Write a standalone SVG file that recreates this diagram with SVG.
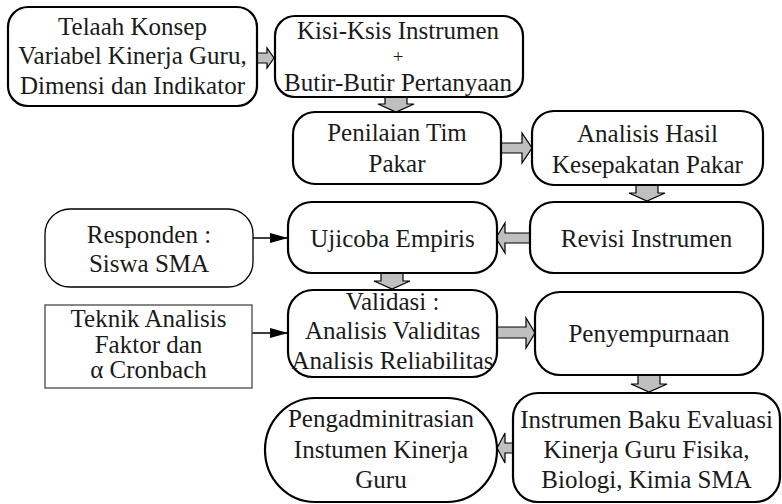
<svg xmlns="http://www.w3.org/2000/svg" width="782" height="504" viewBox="0 0 782 504">
<defs>
<marker id="tri" viewBox="0 0 18 10" refX="18" refY="5" markerWidth="18" markerHeight="10" markerUnits="userSpaceOnUse" orient="auto">
<path d="M0,0 L18,5 L0,10 Z" fill="#000"/>
</marker>
</defs>
<rect width="782" height="504" fill="#fff"/>

<g id="connectors" fill="#bfbfbf" stroke="#000" stroke-width="1.2">
<path d="M256,53 H267 V48 L274,58 L267,68 V63 H256 Z"/>
<path d="M385,97 H407 V104 H414 L396,112 L378,104 H385 Z"/>
<path d="M501,143 H522 V133 L532,148 L522,163 V153 H501 Z"/>
<path d="M636,185 H658 V193 H665 L647,201 L629,193 H636 Z"/>
<path d="M530,233 H505 V223 L496,238 L505,253 V243 H530 Z"/>
<path d="M381,273 H403 V281 H410 L392,289 L374,281 H381 Z"/>
<path d="M497,327 H526 V318 L535,333 L526,348 V338 H497 Z"/>
<path d="M638,375 H660 V384 H667 L649,392 L631,384 H638 Z"/>
<path d="M513,443 H505 V433 L497,448 L505,463 V453 H513 Z"/>
<path d="M242,242 V238 H288" fill="none" stroke-width="1.3" marker-end="url(#tri)"/>
<path d="M242,337 V333 H288" fill="none" stroke-width="1.3" marker-end="url(#tri)"/>
</g>

<g id="n1">
<rect x="8" y="7" width="249" height="99" rx="20" fill="#fff" stroke="#000" stroke-width="2.2"/>
<text font-family="Liberation Serif" font-size="25" fill="#1a1a1a" text-anchor="middle" x="132.5" y="35">Telaah Konsep</text>
<text font-family="Liberation Serif" font-size="25" fill="#1a1a1a" text-anchor="middle" x="132.5" y="64">Variabel Kinerja Guru,</text>
<text font-family="Liberation Serif" font-size="25" fill="#1a1a1a" text-anchor="middle" x="132.5" y="94">Dimensi dan Indikator</text>
</g>

<g id="n2">
<rect x="275" y="16" width="248" height="81" rx="20" fill="#fff" stroke="#000" stroke-width="2.2"/>
<text font-family="Liberation Serif" font-size="25" fill="#1a1a1a" text-anchor="middle" x="398" y="39">Kisi-Ksis Instrumen</text>
<text font-family="Liberation Serif" font-size="19" fill="#1a1a1a" text-anchor="middle" x="398" y="63">+</text>
<text font-family="Liberation Serif" font-size="25" fill="#1a1a1a" text-anchor="middle" x="398" y="91">Butir-Butir Pertanyaan</text>
</g>

<g id="n3">
<rect x="293" y="112" width="208" height="72" rx="22" fill="#fff" stroke="#000" stroke-width="2.2"/>
<text font-family="Liberation Serif" font-size="25" fill="#1a1a1a" text-anchor="middle" x="397" y="141">Penilaian Tim</text>
<text font-family="Liberation Serif" font-size="25" fill="#1a1a1a" text-anchor="middle" x="397" y="172">Pakar</text>
</g>

<g id="n4">
<rect x="532" y="111" width="231" height="74" rx="22" fill="#fff" stroke="#000" stroke-width="2.2"/>
<text font-family="Liberation Serif" font-size="25" fill="#1a1a1a" text-anchor="middle" x="647.5" y="142">Analisis Hasil</text>
<text font-family="Liberation Serif" font-size="25" fill="#1a1a1a" text-anchor="middle" x="647.5" y="173">Kesepakatan Pakar</text>
</g>

<g id="n5">
<rect x="530" y="202" width="233" height="71" rx="24" fill="#fff" stroke="#000" stroke-width="2.2"/>
<text font-family="Liberation Serif" font-size="25" fill="#1a1a1a" text-anchor="middle" x="646.5" y="247">Revisi Instrumen</text>
</g>

<g id="n6">
<rect x="288" y="202" width="209" height="71" rx="24" fill="#fff" stroke="#000" stroke-width="2.2"/>
<text font-family="Liberation Serif" font-size="25" fill="#1a1a1a" text-anchor="middle" x="392.5" y="247">Ujicoba Empiris</text>
</g>

<g id="responden">
<rect x="45" y="209" width="208" height="78" rx="25" fill="#fff" stroke="#000" stroke-width="1.3"/>
<text font-family="Liberation Serif" font-size="25" fill="#1a1a1a" text-anchor="middle" x="149" y="243">Responden :</text>
<text font-family="Liberation Serif" font-size="25" fill="#1a1a1a" text-anchor="middle" x="149" y="272">Siswa SMA</text>
</g>

<g id="teknik">
<rect x="45" y="305" width="207" height="83" fill="#fff" stroke="#555" stroke-width="1.4"/>
<text font-family="Liberation Serif" font-size="25" fill="#1a1a1a" text-anchor="middle" x="148.5" y="327">Teknik Analisis</text>
<text font-family="Liberation Serif" font-size="25" fill="#1a1a1a" text-anchor="middle" x="148.5" y="353">Faktor dan</text>
<text font-family="Liberation Serif" font-size="25" fill="#1a1a1a" text-anchor="middle" x="148.5" y="378">α Cronbach</text>
</g>

<g id="n7">
<rect x="288" y="290" width="209" height="87" rx="25" fill="#fff" stroke="#000" stroke-width="2.2"/>
<text font-family="Liberation Serif" font-size="25" fill="#1a1a1a" text-anchor="middle" x="392.5" y="310">Validasi :</text>
<text font-family="Liberation Serif" font-size="25" fill="#1a1a1a" text-anchor="middle" x="392.5" y="339">Analisis Validitas</text>
<text font-family="Liberation Serif" font-size="25" fill="#1a1a1a" text-anchor="middle" x="392.5" y="369">Analisis Reliabilitas</text>
</g>

<g id="n8">
<rect x="535" y="292" width="228" height="83" rx="25" fill="#fff" stroke="#000" stroke-width="2.2"/>
<text font-family="Liberation Serif" font-size="25" fill="#1a1a1a" text-anchor="middle" x="649" y="342">Penyempurnaan</text>
</g>

<g id="n9">
<rect x="513" y="393" width="267" height="109" rx="25" fill="#fff" stroke="#000" stroke-width="2.2"/>
<text font-family="Liberation Serif" font-size="25" fill="#1a1a1a" text-anchor="middle" x="646.5" y="428">Instrumen Baku Evaluasi</text>
<text font-family="Liberation Serif" font-size="25" fill="#1a1a1a" text-anchor="middle" x="646.5" y="458">Kinerja Guru Fisika,</text>
<text font-family="Liberation Serif" font-size="25" fill="#1a1a1a" text-anchor="middle" x="646.5" y="488">Biologi, Kimia SMA</text>
</g>

<g id="n10">
<rect x="265" y="398" width="232" height="104" rx="50" ry="52" fill="#fff" stroke="#000" stroke-width="2.2"/>
<text font-family="Liberation Serif" font-size="25" fill="#1a1a1a" text-anchor="middle" x="381" y="427">Pengadminitrasian</text>
<text font-family="Liberation Serif" font-size="25" fill="#1a1a1a" text-anchor="middle" x="381" y="458">Instumen Kinerja</text>
<text font-family="Liberation Serif" font-size="25" fill="#1a1a1a" text-anchor="middle" x="381" y="488">Guru</text>
</g>
</svg>
